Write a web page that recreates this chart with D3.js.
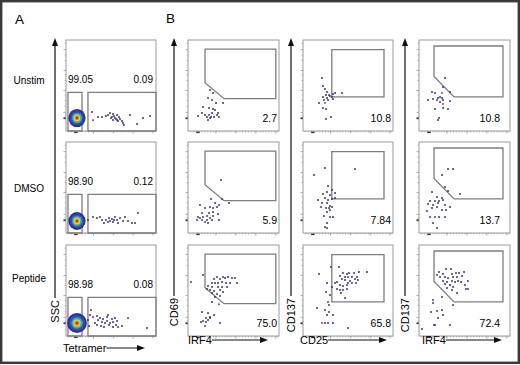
<!DOCTYPE html>
<html>
<head>
<meta charset="utf-8">
<script src="https://cdn.jsdelivr.net/npm/d3@7"></script>
<style>
  body { margin: 0; background: #fff; }
  svg { display: block; font-family: "Liberation Sans", Arial, sans-serif; }
</style>
</head>
<body>
<svg id="fig" width="520" height="365"></svg>
<script>
// --- data (all event coordinates in 0-100 display units of each plot) ---
const conditions = ["Unstim", "DMSO", "Peptide"];
const tetNegPct = ["99.05", "98.90", "98.98"];
const tetPosPct = ["0.09", "0.12", "0.08"];
const irf4Cd69Pct = ["2.7", "5.9", "75.0"];
const cd25Cd137Pct = ["10.8", "7.84", "65.8"];
const irf4Cd137Pct = ["10.8", "13.7", "72.4"];

// panel A: tetramer vs SSC
const tetUnstim = [[28.9,20.9],[30,12],[35.6,15.4],[40,15.4],[44.4,16.5],[46.7,17.6],[48.9,19.8],[51.1,15.4],[52.2,18.7],[52.2,12.1],
  [54.4,14.3],[56.7,12.1],[56.7,17.6],[57.8,11],[60,13.2],[62.2,11],[63.3,8.8],[64.4,6.6],[71.1,17.6],[78.9,7.7],[85.6,14.3],[93.3,16.5],
  [50,14.3],[53.3,16.5],[55.6,13.2],[58.9,15.4]];
const tetDmso = [[24.4,14.3],[30,17.6],[34.4,16.5],[37.8,17.6],[40,14.3],[42.2,11],[44.4,14.3],[46.7,12.1],[48.9,13.2],[51.1,15.4],
  [52.2,12.1],[54.4,17.6],[56.7,14.3],[57.8,11],[60,16.5],[63.3,13.2],[65.6,17.6],[68.9,13.2],[73.3,11],[76.7,11],[80,22],[47.8,16.5],[53.3,14.3]];
const tetPeptide = [[26.7,23.1],[30,20.9],[34.4,22],[35.6,17.6],[37.8,19.8],[40,15.4],[41.1,18.7],[43.3,14.3],[45.6,20.9],[45.6,16.5],
  [47.8,12.1],[51.1,18.7],[52.2,15.4],[54.4,19.8],[55.6,12.1],[56.7,16.5],[57.8,9.9],[62.2,11],[68.9,19.8],[90,8.8],[32.2,14.3],[34.4,12.1],
  [38.9,11],[42.2,9.9],[46.7,23.1],[52.2,9.9],[48.9,14.3],[24.4,17.6],[25.6,11],[27.8,28.6]];
// dense tetramer-negative core: centre and spread per condition
const coreCentre = [[12.2,14.3],[12.2,13.2],[12.2,14.3]];
const coreSpread = [[9.6,10],[9.6,9.8],[11,11]];
const coreLevels = [1, 0.8, 0.58, 0.46, 0.36, 0.26, 0.15];
const coreColours = ["#3b2a8e", "#2a4fbf", "#27a9d8", "#55c25a", "#e6dd3c", "#f08c2e", "#dd2a20"];

// panel B, column 1: IRF4 vs CD69
const irf4Cd69Unstim = [[24.2,45],[27.5,41.8],[22,36.3],[26.4,34],[30.8,30.8],[38.5,30.8],[16.5,26.4],[23.1,25.3],[27.5,24.2],[11,16.5],
  [15.4,19.8],[18.7,17.6],[20.9,15.4],[23.1,17.6],[25.3,15.4],[26.4,19.8],[28.6,15.4],[31.9,17.6],[34,15.4],[29.7,23.1],[33,19.8],[24.2,14.3],[22,12.1]];
const irf4Cd69Dmso = [[36.3,58.2],[45,33],[37.4,37.4],[25.3,37.4],[29.7,33],[13.2,30.8],[18.7,27.5],[24.2,28.6],[27.5,27.5],[31.9,28.6],
  [34.1,30.8],[27.5,23.1],[15.4,22],[23.1,22],[33,20.9],[11,17.6],[16.5,17.6],[20.9,18.7],[24.2,16.5],[27.5,18.7],[9.9,14.3],[15.4,14.3],
  [20.9,14.3],[26.4,14.3],[18.7,12.1],[34.1,14.3],[22,11],[13.2,16.5]];
const irf4Cd69Peptide = [[16.5,67],[3.3,59.3],[28.6,62.6],[31.9,64.8],[35.2,62.6],[38.5,64.8],[40.7,63.7],[44,64.8],[48.4,63.7],[51.6,63.7],
  [26.4,58.2],[29.7,58.2],[33,58.2],[37.4,59.3],[41.8,58.2],[46.2,58.2],[53.8,58.2],[22,54.9],[26.4,53.8],[33,53.8],[37.4,53.8],[42.9,53.8],
  [20.9,51.6],[24.2,50.5],[28.6,49.5],[35.2,50.5],[38.5,48.4],[26.4,47.3],[31.9,46.2],[35.2,44],[29.7,42.9],[26.4,37.4],[15.4,26.4],[22,25.3],
  [28.6,23.1],[19.8,19.8],[14.3,15.4],[16.5,16.5],[19.8,15.4],[22,17.6],[24.2,19.8],[35.2,14.3],[18.7,11],[24.2,20.9]];

// panel B, column 2: CD25 vs CD137
const cd25Cd137Unstim = [[21.1,58.2],[22.2,49.5],[24.4,46.2],[26.7,42.9],[28.9,39.6],[25.6,39.6],[22.2,37.4],[26.7,36.3],[32.2,37.4],
  [35.6,41.8],[43.3,41.8],[33.3,35.2],[23.3,34.1],[27.8,34.1],[17.8,30.8],[22.2,25.3],[25.6,24.2],[31.1,15.4],[25.6,13.2],[30,38.5],[33.3,40.7]];
const cd25Cd137Dmso = [[12.2,63.7],[24.4,71.4],[57.8,70.3],[27.8,51.6],[32.2,47.3],[26.7,45],[35.6,44],[22.2,42.9],[30,41.8],[16.7,36.3],
  [24.4,38.5],[27.8,36.3],[32.2,37.4],[35.6,38.5],[21.1,33],[26.7,33],[30,29.7],[20,28.6],[25.6,27.5],[28.9,27.5],[32.2,28.6],[26.7,23.1],
  [30,25.3],[23.3,18.7],[30,17.6],[33.3,17.6],[26.7,11],[24.4,6.6],[26.7,5.5]];
const cd25Cd137Peptide = [[40,75.8],[31.1,75.8],[17.8,68.1],[44.4,69.2],[48.9,68.1],[51.1,69.2],[56.7,69.2],[62.2,70.3],[71.1,70.3],
  [41.1,65.9],[46.7,64.8],[50,64.8],[54.4,64.8],[60,64.8],[43.3,62.6],[46.7,61.5],[52.2,60.4],[57.8,62.6],[61.1,61.5],[37.8,59.3],[35.6,58.2],
  [26.7,58.2],[50,58.2],[54.4,58.2],[58.9,58.2],[41.1,56],[44.4,54.9],[48.9,56],[32.2,53.8],[37.8,51.6],[41.1,50.5],[44.4,50.5],[48.9,51.6],
  [25.6,48.4],[42.2,47.3],[30,45],[46.7,41.8],[27.8,37.4],[28.9,34.1],[15.6,30.8],[24.4,28.6],[28.9,26.4],[26.7,23.1],[33.3,23.1],
  [24.4,14.3],[27.8,14.3],[33.3,14.3],[50,8.8]];

// panel B, column 3: IRF4 vs CD137
const irf4Cd137Unstim = [[28.6,58.2],[26.4,48.4],[14.3,42.9],[17.6,41.8],[34.1,42.9],[23.1,37.4],[20.9,36.3],[25.3,36.3],[15.4,35.2],
  [26.4,34.1],[9.9,34.1],[19.8,34.1],[23.1,31.9],[34.1,33],[17.6,24.2],[26.4,25.3],[31.9,24.2],[22,14.3],[20.9,12.1]];
const irf4Cd137Dmso = [[25.3,63.7],[31.9,70.3],[37.4,70.3],[28.6,50.5],[31.9,46.2],[45,42.9],[14.3,45],[19.8,39.6],[25.3,38.5],[12.1,35.2],
  [17.6,35.2],[22,35.2],[26.4,36.3],[9.9,31.9],[15.4,30.8],[20.9,33],[28.6,30.8],[34.1,28.6],[8.8,24.2],[14.3,27.5],[19.8,28.6],[25.3,25.3],
  [29.7,25.3],[12.1,17.6],[17.6,17.6],[22,17.6],[28.6,17.6],[15.4,11],[19.8,5.5]];
const irf4Cd137Peptide = [[29.7,73.6],[35.2,73.6],[22,70.3],[19.8,67],[26.4,68.1],[36.3,68.1],[40.7,69.2],[44,69.2],[49.5,70.3],[23.1,64.8],
  [28.6,64.8],[31.9,63.7],[37.4,64.8],[41.8,64.8],[47.3,65.9],[26.4,60.4],[30.8,59.3],[36.3,60.4],[39.6,59.3],[42.9,60.4],[46.2,59.3],
  [53.8,60.4],[28.6,57.1],[34.1,56],[37.4,53.8],[50.5,56],[51.6,51.6],[53.8,51.6],[30.8,52.7],[36.3,50.5],[41.8,47.3],[25.3,42.9],[15.4,39.6],
  [15.4,36.3],[37.4,34.1],[13.2,26.4],[19.8,27.5],[25.3,28.6],[26.4,23.1],[20.9,19.8],[16.5,12.1],[34.1,12.1],[17.6,12.1],[3.3,7.7]];

// back-gated events shown in red: [column, row, x, y]
const redEvents = [[2,0,24.4,30.8],[3,0,25.3,41.8],[3,0,26.4,29.7],[1,2,34,35],[2,2,21.1,14.3]];

// gates
const tetNegGate = [2.2, 17.8, 42.5];   // x from, x to, top
const tetPosGate = [24.4, 100, 42.5];
const irf4Cd69Gate = [[18.7,90],[96.5,90],[96.5,35.5],[39.6,35.5],[18.7,53]];
const cd25Cd137Gate = [[32,89.5],[90,89.5],[90,37.4],[32,37.4]];
const irf4Cd137Gate = [[16.5,93.4],[92.3,93.4],[92.3,37.4],[38.5,37.4],[16.5,60]];

// axis tick positions (display units)
const yMajorTicks = [90, 67, 45, 21];
const yMinorTicks = [97, 84, 78, 62, 56, 40, 34, 28, 17];
const xMajorTicks = [30, 52, 74, 96];

// --- layout ---
const svg = d3.select("#fig");
const rowsY = [[40, 131], [142, 233], [245, 336]];
const colsX = [[66, 156], [188, 279], [303, 393], [419, 510]];
const rowLabelY = [84, 192, 282];
const pctRight = [277, 391, 500];
const dotColour = "#2f2c8c";

svg.append("rect").attr("x", 1.2).attr("y", 1.2).attr("width", 517.6).attr("height", 361.6)
  .attr("fill", "none").attr("stroke", "#3a3a3a").attr("stroke-width", 2.4);

svg.append("text").attr("x", 15).attr("y", 24).attr("font-size", 13.5).text("A");
svg.append("text").attr("x", 166).attr("y", 23).attr("font-size", 13.5).text("B");

function makePlot(col, row) {
  const [x0, x1] = colsX[col];
  const [y0, y1] = rowsY[row];
  const x = d3.scaleLinear().domain([0, 100]).range([x0, x1]);
  const y = d3.scaleLinear().domain([0, 100]).range([y1, y0]);
  const g = svg.append("g");

  // ticks on the left and bottom, outside the box
  const tickStyle = a => {
    a.select(".domain").remove();
    a.selectAll("line").attr("stroke", "#777").attr("stroke-width", 0.6);
  };
  g.append("g").attr("transform", `translate(${x0},0)`)
    .call(d3.axisLeft(y).tickValues(yMajorTicks).tickSize(2.5).tickFormat("")).call(tickStyle);
  g.append("g").attr("transform", `translate(${x0},0)`)
    .call(d3.axisLeft(y).tickValues(yMinorTicks).tickSize(1.3).tickFormat("")).call(tickStyle);
  g.append("g").attr("transform", `translate(0,${y1})`)
    .call(d3.axisBottom(x).tickValues(d3.range(2, 100, 3.2)).tickSize(1.3).tickFormat("")).call(tickStyle);
  g.append("g").attr("transform", `translate(0,${y1})`)
    .call(d3.axisBottom(x).tickValues(xMajorTicks).tickSize(2.5).tickFormat("")).call(tickStyle);
  // bold ticks near zero
  g.append("rect").attr("x", x0 - 2.5).attr("y", y(14) - 0.9).attr("width", 2.5).attr("height", 1.8).attr("fill", "#333");
  g.append("rect").attr("x", x(9)).attr("y", y1 + 0.5).attr("width", 3.5).attr("height", 1.6).attr("fill", "#333");

  g.append("rect").attr("x", x0).attr("y", y0).attr("width", x1 - x0).attr("height", y1 - y0)
    .attr("fill", "none").attr("stroke", "#9a9a9a").attr("stroke-width", 1);
  return { g, x, y, x0, x1, y0, y1 };
}

function drawDots(p, pts) {
  p.g.append("g").selectAll("circle").data(pts).join("circle")
    .attr("cx", d => p.x(d[0])).attr("cy", d => p.y(d[1])).attr("r", 0.95).attr("fill", dotColour);
}

function drawGate(p, poly) {
  p.g.append("path")
    .attr("d", d3.line().x(d => p.x(d[0])).y(d => p.y(d[1])).curve(d3.curveLinearClosed)(poly))
    .attr("fill", "none").attr("stroke", "#7d7d7d").attr("stroke-width", 1.3);
}

const tetEvents = [tetUnstim, tetDmso, tetPeptide];
const bEvents = [
  [irf4Cd69Unstim, irf4Cd69Dmso, irf4Cd69Peptide],
  [cd25Cd137Unstim, cd25Cd137Dmso, cd25Cd137Peptide],
  [irf4Cd137Unstim, irf4Cd137Dmso, irf4Cd137Peptide]
];
const bGates = [irf4Cd69Gate, cd25Cd137Gate, irf4Cd137Gate];
const bPct = [irf4Cd69Pct, cd25Cd137Pct, irf4Cd137Pct];

conditions.forEach((name, r) => {
  // panel A
  const p = makePlot(0, r);
  [tetNegGate, tetPosGate].forEach(gt => {
    drawGate(p, [[gt[0], gt[2]], [gt[1], gt[2]], [gt[1], 0], [gt[0], 0]]);
  });
  drawDots(p, tetEvents[r]);
  const [cx, cy] = coreCentre[r];
  const [sx, sy] = coreSpread[r];
  p.g.append("g").selectAll("ellipse").data(coreLevels).join("ellipse")
    .attr("cx", p.x(cx)).attr("cy", p.y(cy))
    .attr("rx", d => p.x(sx * d) - p.x(0)).attr("ry", d => p.y(0) - p.y(sy * d))
    .attr("fill", (d, i) => coreColours[i]);
  p.g.append("text").attr("x", p.x(2.2)).attr("y", p.y(tetNegGate[2]) - 9.5)
    .attr("font-size", 10).text(tetNegPct[r]);
  p.g.append("text").attr("x", 153).attr("y", p.y(tetPosGate[2]) - 9.5)
    .attr("font-size", 10).attr("text-anchor", "end").text(tetPosPct[r]);
  svg.append("text").attr("x", 29).attr("y", rowLabelY[r]).attr("font-size", 10)
    .attr("text-anchor", "middle").text(name);

  // panel B
  for (let c = 0; c < 3; c++) {
    const q = makePlot(c + 1, r);
    drawGate(q, bGates[c]);
    drawDots(q, bEvents[c][r]);
    q.g.append("text").attr("x", pctRight[c]).attr("y", q.y1 - 9)
      .attr("font-size", 10.5).attr("text-anchor", "end").text(bPct[c][r]);
  }
});

// red back-gated events
redEvents.forEach(([c, r, vx, vy]) => {
  const x = d3.scaleLinear().domain([0, 100]).range(colsX[c]);
  const y = d3.scaleLinear().domain([0, 100]).range([rowsY[r][1], rowsY[r][0]]);
  svg.append("circle").attr("cx", x(vx)).attr("cy", y(vy)).attr("r", 1).attr("fill", "#d8342c");
});

// --- axis arrows and labels ---
function vArrow(x, yBottom, yTip, label) {
  svg.append("line").attr("x1", x).attr("x2", x).attr("y1", yBottom).attr("y2", yTip + 6)
    .attr("stroke", "#111").attr("stroke-width", 1.2);
  svg.append("path").attr("d", `M${x},${yTip} L${x - 3},${yTip + 8} L${x + 3},${yTip + 8} Z`).attr("fill", "#111");
  svg.append("text").attr("transform", `translate(${x + 4},${yBottom + 2}) rotate(-90)`)
    .attr("font-size", 11).attr("text-anchor", "end").text(label);
}
function hArrow(x, y, xTip, label) {
  const t = svg.append("text").attr("x", x).attr("y", y + 4).attr("font-size", 11).text(label);
  const w = t.node().getComputedTextLength();
  svg.append("line").attr("x1", x + w).attr("x2", xTip - 6).attr("y1", y).attr("y2", y)
    .attr("stroke", "#111").attr("stroke-width", 1.2);
  svg.append("path").attr("d", `M${xTip},${y} L${xTip - 8},${y - 3} L${xTip - 8},${y + 3} Z`).attr("fill", "#111");
}

vArrow(55, 298, 38, "SSC");
vArrow(174, 296, 38, "CD69");
vArrow(291, 296, 38, "CD137");
vArrow(405, 296, 38, "CD137");
hArrow(63, 348, 145, "Tetramer");
hArrow(188, 340, 268, "IRF4");
hArrow(300, 340, 387, "CD25");
hArrow(422, 340, 502, "IRF4");
</script>
</body>
</html>
